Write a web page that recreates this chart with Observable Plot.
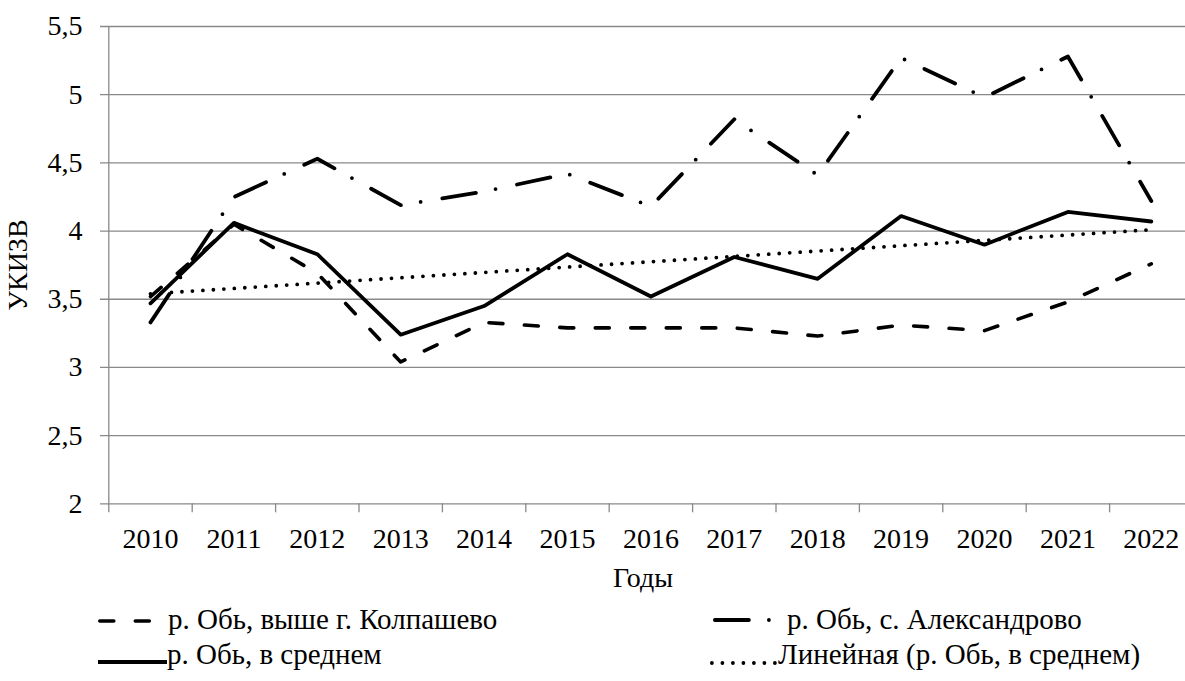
<!DOCTYPE html>
<html>
<head>
<meta charset="utf-8">
<script src="https://cdn.jsdelivr.net/npm/d3@7"></script>
<script src="https://cdn.jsdelivr.net/npm/@observablehq/plot@0.6"></script>
</head>
<body style="margin:0;padding:0;background:#fff;font-family:'Liberation Serif'">
<div id="wrap" style="position:relative;width:1185px;height:681px;overflow:hidden;font-family:'Liberation Serif'"></div>
<script>
const years = [2010, 2011, 2012, 2013, 2014, 2015, 2016, 2017, 2018, 2019, 2020, 2021, 2022];
const kolpashevo = [3.52, 4.05, 3.69, 3.04, 3.33, 3.29, 3.29, 3.29, 3.23, 3.31, 3.27, 3.48, 3.76];
const aleksandrovo = [3.33, 4.25, 4.53, 4.19, 4.29, 4.42, 4.18, 4.82, 4.41, 5.27, 4.98, 5.28, 4.22];
const average = [3.47, 4.06, 3.83, 3.24, 3.45, 3.83, 3.52, 3.81, 3.65, 4.11, 3.90, 4.14, 4.07];
const trendYears = [2010, 2022];
const trendValues = [3.54, 4.01];
const yTicks = [2, 2.5, 3, 3.5, 4, 4.5, 5, 5.5];
const seriesNames = ["р. Обь, выше г. Колпашево", "р. Обь, с. Александрово", "р. Обь, в среднем", "Линейная (р. Обь, в среднем)"];

const FONT = "'Liberation Serif', serif";
const styles = {
  dashed: {stroke: "#000", strokeWidth: 3.6, strokeDasharray: "14,21.5", strokeLinecap: "round", strokeLinejoin: "round"},
  dashdot: {stroke: "#000", strokeWidth: 3.8, strokeDasharray: "34,20,0,22", strokeLinecap: "round", strokeLinejoin: "round"},
  solid: {stroke: "#000", strokeWidth: 3.8, strokeLinejoin: "round"},
  dotted: {stroke: "#000", strokeWidth: 3.8, strokeDasharray: "0,10.5", strokeLinecap: "round"}
};

const rows = (vals) => years.map((y, i) => ({year: y, value: vals[i]}));
const trendRows = trendYears.map((y, i) => ({year: y, value: trendValues[i]}));
const boundaries = years.map(y => y - 0.5).concat([years[years.length - 1] + 0.5]);
const grey = "#898989";
const fmt = d => String(d).replace(".", ",");

const chart = Plot.plot({
  width: 1185,
  height: 600,
  marginLeft: 100,
  marginRight: 0,
  marginTop: 26,
  marginBottom: 96.7,
  style: {fontFamily: FONT, fontSize: "28px", color: "#000", background: "#fff"},
  x: {type: "linear", domain: [2009.5, 2022.5], range: [108.3, 1192.5]},
  y: {domain: [2, 5.5], range: [503.3, 26]},
  marks: [
    Plot.gridY(yTicks, {stroke: grey, strokeOpacity: 1, strokeWidth: 1.3}),
    Plot.ruleX([2009.5], {stroke: grey, strokeWidth: 1.3}),
    Plot.axisY(yTicks, {tickSize: 0, tickPadding: 18, tickFormat: fmt, fontSize: 28,
      label: "УКИЗВ", labelAnchor: "center", labelArrow: "none", labelOffset: 93}),
    Plot.axisX(boundaries, {tickSize: 9, stroke: grey, strokeWidth: 1.3, tickFormat: () => "", label: null}),
    Plot.axisX(years, {tickSize: 0, tickPadding: 24, tickFormat: d => String(d), fontSize: 28,
      label: "Годы", labelAnchor: "center", labelArrow: "none", labelOffset: 83}),
    Plot.line(trendRows, {x: "year", y: "value", ...styles.dotted}),
    Plot.line(rows(kolpashevo), {x: "year", y: "value", ...styles.dashed}),
    Plot.line(rows(aleksandrovo), {x: "year", y: "value", ...styles.dashdot}),
    Plot.line(rows(average), {x: "year", y: "value", ...styles.solid})
  ]
});
const wrap = document.getElementById("wrap");
wrap.appendChild(chart);

const ns = "http://www.w3.org/2000/svg";
// legend: [style, lineLeft, lineLength, lineY, textLeft, textTop, label]
const legendItems = [
  [styles.dashed, 98, 54, 620.5, 168, 605, seriesNames[0]],
  [styles.dashdot, 713, 60, 620, 787, 605, seriesNames[1]],
  [styles.solid, 98, 69, 662, 167, 640, seriesNames[2]],
  [styles.dotted, 710, 67, 663, 778, 640, seriesNames[3]]
];
for (const [st, lx, len, ly, tx, ty, label] of legendItems) {
  const svg = document.createElementNS(ns, "svg");
  const sw = st.strokeWidth;
  svg.setAttribute("width", len + 4);
  svg.setAttribute("height", 12);
  svg.style.cssText = "position:absolute;display:block;overflow:visible;left:" + (lx - 2) + "px;top:" + (ly - 6) + "px";
  const ln = document.createElementNS(ns, "line");
  const capPad = st.strokeLinecap === "round" ? sw / 2 : 0;
  ln.setAttribute("x1", 2 + capPad); ln.setAttribute("x2", 2 + len - capPad);
  ln.setAttribute("y1", 6); ln.setAttribute("y2", 6);
  ln.setAttribute("stroke", st.stroke);
  ln.setAttribute("stroke-width", sw);
  if (st.strokeDasharray) ln.setAttribute("stroke-dasharray", st.strokeDasharray);
  if (st.strokeLinecap) ln.setAttribute("stroke-linecap", st.strokeLinecap);
  svg.appendChild(ln);
  wrap.appendChild(svg);
  const span = document.createElement("div");
  span.textContent = label;
  span.style.cssText = "position:absolute;white-space:nowrap;font-size:29px;line-height:1;color:#000;left:" + tx + "px;top:" + ty + "px";
  wrap.appendChild(span);
}
wrap.querySelectorAll("*").forEach(el => el.style.setProperty("font-family", FONT, "important"));
wrap.style.setProperty("font-family", FONT, "important");
</script>
</body>
</html>
